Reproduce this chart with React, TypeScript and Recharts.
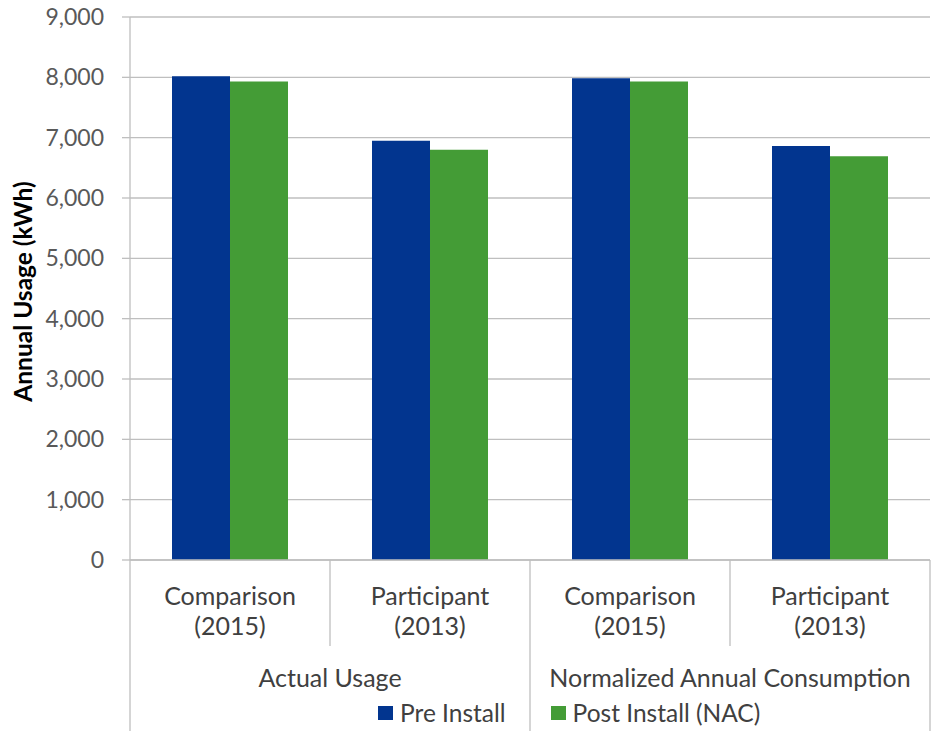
import { Bar, BarChart, CartesianGrid, Legend, XAxis, YAxis } from 'recharts';

const CATEGORIES = ['Comparison\n(2015)', 'Participant\n(2013)', 'Comparison\n(2015)', 'Participant\n(2013)'];
const GROUPS = ['Actual Usage', 'Actual Usage', 'Normalized Annual Consumption', 'Normalized Annual Consumption'];
const PRE_INSTALL = [8020, 6950, 7985, 6860];
const POST_INSTALL = [7930, 6800, 7930, 6690];
const Y_TICKS = [0, 1000, 2000, 3000, 4000, 5000, 6000, 7000, 8000, 9000];

const BLUE = '#02358f';
const GREEN = '#449c36';
const GRID = '#bfbfbf';
const FONT = 'Lato, "Open Sans", sans-serif';

const data = CATEGORIES.map((category, i) => ({
  category,
  group: GROUPS[i],
  pre: PRE_INSTALL[i],
  post: POST_INSTALL[i],
}));

const CHART_H = 731;

// two-line category label plus the group row and the separators under the axis
function CategoryTick(props: any) {
  const { x, y, payload, index } = props;
  const half = payload?.offset ?? 100;
  const lines = String(CATEGORIES[index] ?? payload.value).split('\n');
  const isGroupStart = index === 0 || GROUPS[index] !== GROUPS[index - 1];
  const isLast = index === CATEGORIES.length - 1;
  let count = 0;
  if (isGroupStart) {
    while (GROUPS[index + count] === GROUPS[index]) count++;
  }
  return (
    <g>
      <line
        x1={x - half}
        x2={x - half}
        y1={y}
        y2={isGroupStart ? CHART_H : y + 86}
        stroke={GRID}
        strokeWidth={1.3}
      />
      {isLast && <line x1={x + half} x2={x + half} y1={y} y2={CHART_H} stroke={GRID} strokeWidth={1.3} />}
      {lines.map((l, i) => (
        <text
          key={i}
          x={x}
          y={y + 45 + i * 30}
          textAnchor="middle"
          fill="#404040"
          fontSize={25}
          fontFamily={FONT}
        >
          {l}
        </text>
      ))}
      {isGroupStart && (
        <text
          x={x - half + count * half}
          y={y + 127}
          textAnchor="middle"
          fill="#404040"
          fontSize={25}
          fontFamily={FONT}
        >
          {GROUPS[index]}
        </text>
      )}
    </g>
  );
}

function YTitle(props: any) {
  const vb = props.viewBox ?? { x: 0, y: 17, width: 130, height: 543 };
  const cx = 22;
  const cy = vb.y + vb.height / 2 + 3;
  return (
    <text
      x={cx}
      y={cy}
      transform={`rotate(-90, ${cx}, ${cy})`}
      textAnchor="middle"
      dominantBaseline="central"
      fontSize={24.5}
      fontWeight="bold"
      fontFamily={FONT}
      fill="#000"
    >
      Annual Usage (kWh)
    </text>
  );
}

function LegendContent() {
  const items = [
    { name: 'Pre Install', color: BLUE },
    { name: 'Post Install (NAC)', color: GREEN },
  ];
  return (
    <div style={{ display: 'flex', gap: 45, fontFamily: FONT, fontSize: 24.5, color: '#404040' }}>
      {items.map((it) => (
        <div key={it.name} style={{ display: 'flex', alignItems: 'center' }}>
          <span style={{ width: 15, height: 14, background: it.color, marginRight: 7, display: 'inline-block' }} />
          <span>{it.name}</span>
        </div>
      ))}
    </div>
  );
}

export default function App() {
  return (
    <div style={{ position: 'absolute', left: 0, top: 0, background: '#fff' }}>
      <BarChart
        width={931}
        height={CHART_H}
        data={data}
        margin={{ top: 17, right: 1, left: 0, bottom: 0 }}
        barCategoryGap="21%"
        barGap={0}
      >
        <CartesianGrid vertical={false} stroke={GRID} strokeWidth={1.3} />
        <XAxis
          dataKey="category"
          height={171}
          tickSize={0}
          tickMargin={0}
          tickLine={false}
          axisLine={{ stroke: GRID, strokeWidth: 1.3 }}
          tick={<CategoryTick />}
          interval={0}
        />
        <YAxis
          width={130}
          domain={[0, 9000]}
          ticks={Y_TICKS}
          tickSize={8}
          tickMargin={18}
          tickLine={{ stroke: GRID, strokeWidth: 1.3 }}
          axisLine={{ stroke: GRID, strokeWidth: 1.3 }}
          tick={{ fill: '#595959', fontSize: 23, fontFamily: FONT }}
          tickFormatter={(v: number) => v.toLocaleString('en-US')}
          label={<YTitle />}
        />
        <Legend
          layout="horizontal"
          verticalAlign="middle"
          align="center"
          content={<LegendContent />}
          wrapperStyle={{ top: 698, left: 378, width: 'auto' }}
        />
        <Bar dataKey="pre" name="Pre Install" fill={BLUE} isAnimationActive={false} />
        <Bar dataKey="post" name="Post Install (NAC)" fill={GREEN} isAnimationActive={false} />
      </BarChart>
    </div>
  );
}
